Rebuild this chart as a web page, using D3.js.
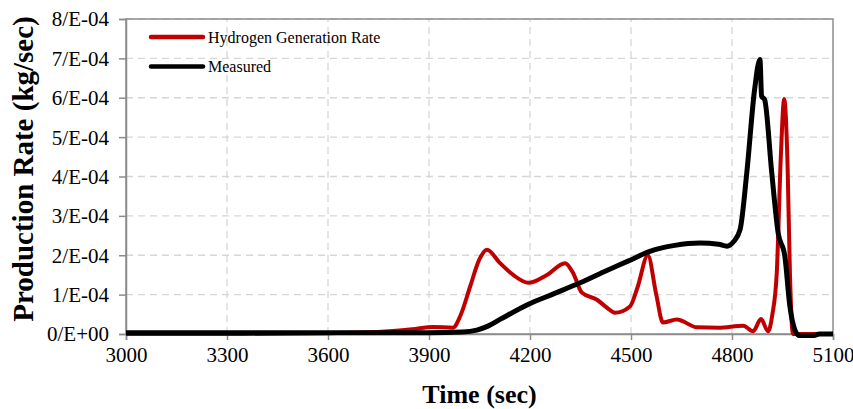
<!DOCTYPE html>
<html>
<head>
<meta charset="utf-8">
<script src="https://cdn.jsdelivr.net/npm/d3@7"></script>
<style>
  html, body { margin: 0; padding: 0; background: #fff; }
  svg { display: block; }
  svg text { font-family: "Liberation Serif", "Times New Roman", serif; fill: #000; }
</style>
</head>
<body>
<svg id="chart" width="853" height="409"></svg>
<script>
// Time axis ticks (sec) and production-rate ticks (units of 1E-04 kg/sec)
const xTicks = [3000, 3300, 3600, 3900, 4200, 4500, 4800, 5100];
const yTicks = [0, 1, 2, 3, 4, 5, 6, 7, 8];
const yTickLabels = ["0/E+00", "1/E-04", "2/E-04", "3/E-04", "4/E-04", "5/E-04", "6/E-04", "7/E-04", "8/E-04"];

// Hydrogen generation rate (model), values in 1E-04 kg/sec
const h2Time = [3000, 3300, 3600, 3750, 3850, 3912, 3971, 3995, 4022, 4050, 4072, 4111, 4150, 4195, 4250, 4304, 4328, 4354, 4399, 4430, 4452, 4497, 4520, 4550, 4575, 4595, 4636, 4696, 4760, 4833, 4863, 4886, 4907, 4920, 4933, 4945, 4955, 4965, 4972, 4981, 5000, 5100];
const h2Rate = [0.0, 0.0, 0.02, 0.05, 0.12, 0.18, 0.16, 0.5, 1.2, 1.9, 2.14, 1.8, 1.5, 1.3, 1.5, 1.8, 1.55, 1.05, 0.87, 0.66, 0.54, 0.7, 1.2, 2.0, 1.0, 0.29, 0.37, 0.17, 0.16, 0.21, 0.07, 0.38, 0.07, 0.5, 1.56, 4.5, 5.97, 4.3, 1.56, 0.0, 0.0, 0.0];

// Measured production rate, values in 1E-04 kg/sec
const measTime = [3000, 3600, 3900, 4000, 4042, 4075, 4111, 4194, 4270, 4349, 4420, 4491, 4556, 4630, 4705, 4760, 4785, 4805, 4824, 4844, 4867, 4883, 4888, 4897, 4918, 4937, 4957, 4972, 4987, 5000, 5040, 5060, 5100];
const measRate = [0.03, 0.03, 0.03, 0.05, 0.1, 0.2, 0.37, 0.75, 1.02, 1.3, 1.58, 1.85, 2.1, 2.25, 2.31, 2.28, 2.23, 2.35, 2.65, 4.1, 6.2, 6.97, 6.04, 5.95, 4.1, 2.57, 1.97, 0.7, 0.1, -0.04, -0.04, 0.0, 0.0];

const legendNames = ["Hydrogen Generation Rate", "Measured"];
const colors = ["#C00000", "#000000"];

const serif = "Liberation Serif, Times New Roman, serif";
const svg = d3.select("#chart");
const margin = { left: 126, right: 20, top: 19, bottom: 75 };
const W = 853, H = 409;
const x = d3.scaleLinear().domain([3000, 5100]).range([margin.left, W - margin.right]);
const y = d3.scaleLinear().domain([0, 8]).range([H - margin.bottom, margin.top]);

// dashed grid
const grid = svg.append("g").attr("stroke", "#d6d6d6").attr("stroke-width", 1.3).attr("stroke-dasharray", "7,5");
grid.selectAll("line.h").data(yTicks.slice(1)).join("line")
  .attr("x1", x(3000)).attr("x2", x(5100))
  .attr("y1", d => y(d)).attr("y2", d => y(d));
grid.selectAll("line.v").data(xTicks.slice(1, -1)).join("line")
  .attr("y1", y(0)).attr("y2", y(8))
  .attr("x1", d => x(d)).attr("x2", d => x(d));

// frame
svg.append("rect")
  .attr("x", x(3000)).attr("y", y(8))
  .attr("width", x(5100) - x(3000)).attr("height", y(0) - y(8))
  .attr("fill", "none").attr("stroke", "#8c8c8c").attr("stroke-width", 1.5);

// axes
const xAxis = d3.axisBottom(x).tickValues(xTicks).tickSize(6).tickPadding(7).tickFormat(d3.format("d"));
const gx = svg.append("g").attr("transform", `translate(0,${y(0)})`).call(xAxis);
const yAxis = d3.axisLeft(y).tickValues(yTicks).tickSize(7).tickPadding(10).tickFormat((d, i) => yTickLabels[i]);
const gy = svg.append("g").attr("transform", `translate(${x(3000)},0)`).call(yAxis);
[gx, gy].forEach(g => {
  g.attr("font-family", serif).attr("font-size", 21);
  g.select(".domain").attr("stroke", "#8c8c8c").attr("stroke-width", 1.5);
  g.selectAll(".tick line").attr("stroke", "#8c8c8c").attr("stroke-width", 1.5);
  g.selectAll(".tick text").attr("font-family", serif).attr("font-size", 21).attr("fill", "#000");
});
gy.selectAll(".tick text").attr("dy", "0.33em");

// series
const line = d3.line().x(d => x(d[0])).y(d => y(d[1])).curve(d3.curveMonotoneX);
const h2 = h2Time.map((t, i) => [t, h2Rate[i]]);
const meas = measTime.map((t, i) => [t, measRate[i]]);
svg.append("path").datum(h2).attr("d", line)
  .attr("fill", "none").attr("stroke", colors[0]).attr("stroke-width", 4).attr("stroke-linejoin", "round");
svg.append("path").datum(meas).attr("d", line)
  .attr("fill", "none").attr("stroke", colors[1]).attr("stroke-width", 5).attr("stroke-linejoin", "round");

// legend
const leg = svg.append("g");
legendNames.forEach((name, i) => {
  const ly = 37 + i * 29.5;
  leg.append("line").attr("x1", 151).attr("x2", 203).attr("y1", ly).attr("y2", ly)
    .attr("stroke", colors[i]).attr("stroke-width", 4.5).attr("stroke-linecap", "round");
  leg.append("text").attr("x", 208).attr("y", ly + 5.5).attr("font-family", serif).attr("font-size", 16).text(name);
});

// axis titles
svg.append("text").attr("x", x(4050)).attr("y", 403).attr("text-anchor", "middle")
  .attr("font-family", serif).attr("font-size", 26).attr("font-weight", "bold").text("Time (sec)");
svg.append("text").attr("transform", `translate(33,169) rotate(-90)`)
  .attr("text-anchor", "middle").attr("font-family", serif).attr("font-size", 29).attr("font-weight", "bold")
  .text("Production Rate (kg/sec)");
</script>
</body>
</html>
